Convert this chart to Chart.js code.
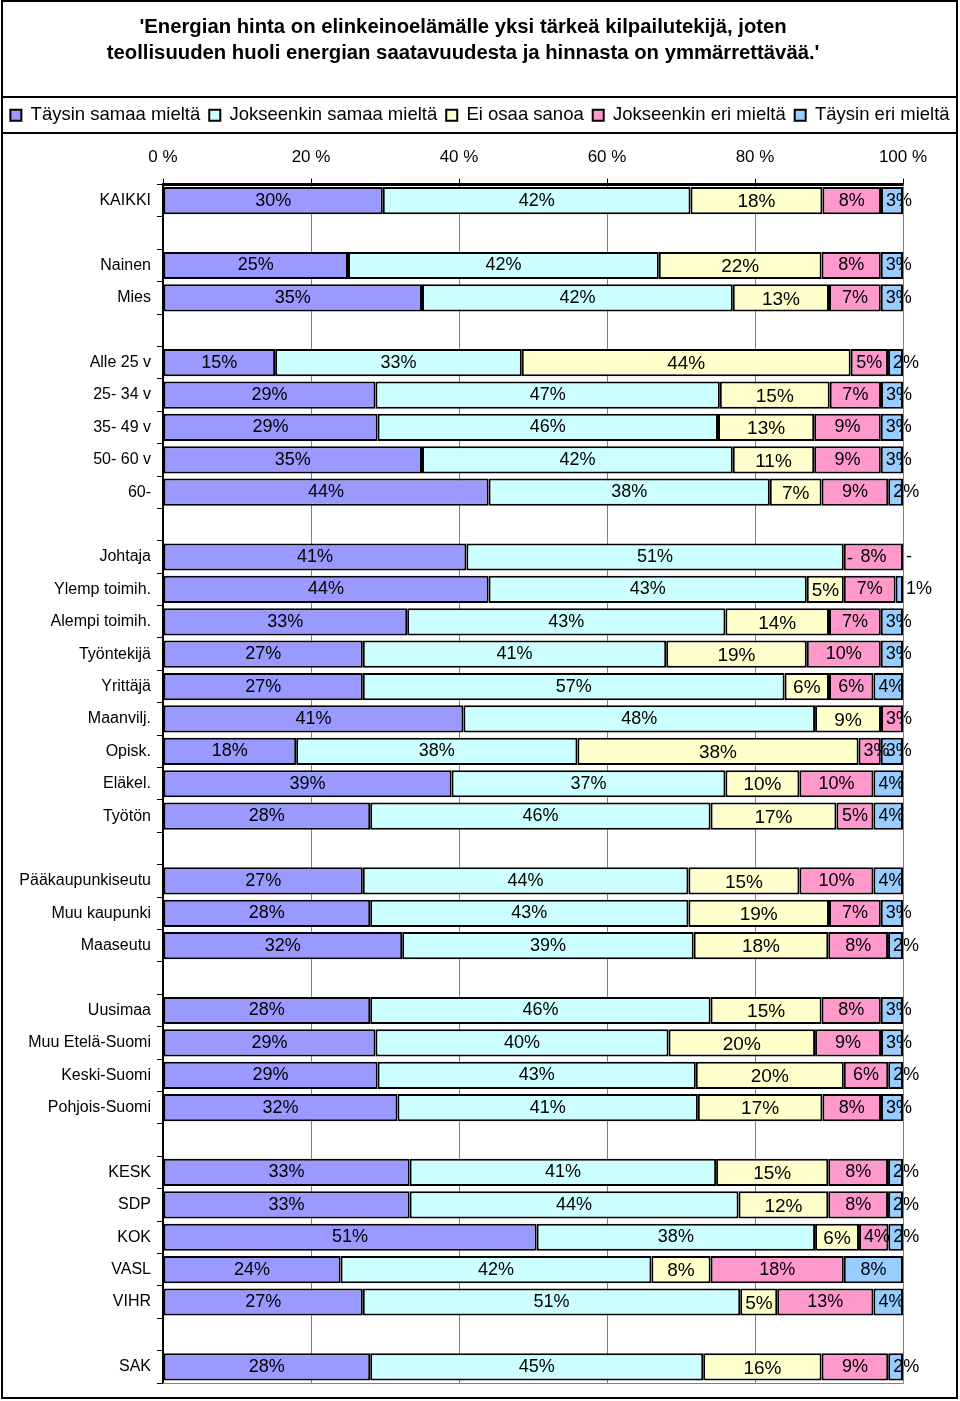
<!DOCTYPE html>
<html>
<head>
<meta charset="utf-8">
<script src="https://cdn.jsdelivr.net/npm/chart.js@4"></script>
<style>
  html, body { margin: 0; padding: 0; background: #fff; }
</style>
</head>
<body>
<canvas id="chart" width="960" height="1401"></canvas>
<script>
// Rows of the chart, '' = empty separator row
const categories = [
  "KAIKKI", "",
  "Nainen", "Mies", "",
  "Alle 25 v", "25- 34 v", "35- 49 v", "50- 60 v", "60-", "",
  "Johtaja", "Ylemp toimih.", "Alempi toimih.", "Työntekijä", "Yrittäjä", "Maanvilj.", "Opisk.", "Eläkel.", "Työtön", "",
  "Pääkaupunkiseutu", "Muu kaupunki", "Maaseutu", "",
  "Uusimaa", "Muu Etelä-Suomi", "Keski-Suomi", "Pohjois-Suomi", "",
  "KESK", "SDP", "KOK", "VASL", "VIHR", "",
  "SAK"
];

const seriesNames = ["Täysin samaa mieltä", "Jokseenkin samaa mieltä", "Ei osaa sanoa", "Jokseenkin eri mieltä", "Täysin eri mieltä"];
const seriesColors = ["#9999FF", "#CCFFFF", "#FFFFCC", "#FF99CC", "#99CCFF"];

// values in % (0 is shown as "-", null = no value)
const taysinSamaa = [30, null, 25, 35, null, 15, 29, 29, 35, 44, null, 41, 44, 33, 27, 27, 41, 18, 39, 28, null, 27, 28, 32, null, 28, 29, 29, 32, null, 33, 33, 51, 24, 27, null, 28];
const jokseenkinSamaa = [42, null, 42, 42, null, 33, 47, 46, 42, 38, null, 51, 43, 43, 41, 57, 48, 38, 37, 46, null, 44, 43, 39, null, 46, 40, 43, 41, null, 41, 44, 38, 42, 51, null, 45];
const eiOsaa = [18, null, 22, 13, null, 44, 15, 13, 11, 7, null, 0, 5, 14, 19, 6, 9, 38, 10, 17, null, 15, 19, 18, null, 15, 20, 20, 17, null, 15, 12, 6, 8, 5, null, 16];
const jokseenkinEri = [8, null, 8, 7, null, 5, 7, 9, 9, 9, null, 8, 7, 7, 10, 6, 3, 3, 10, 5, null, 10, 7, 8, null, 8, 9, 6, 8, null, 8, 8, 4, 18, 13, null, 9];
const taysinEri = [3, null, 3, 3, null, 2, 3, 3, 3, 2, null, 0, 1, 3, 3, 4, null, 3, 4, 4, null, 4, 3, 2, null, 3, 3, 2, 3, null, 2, 2, 2, 8, 4, null, 2];

const xTicks = [0, 20, 40, 60, 80, 100];

const rawSeries = [taysinSamaa, jokseenkinSamaa, eiOsaa, jokseenkinEri, taysinEri];

// 100 % stacking: scale every row to its own sum
const rowSums = categories.map((c, j) => rawSeries.reduce((s, arr) => s + (arr[j] || 0), 0));
const datasets = rawSeries.map((arr, i) => ({
  label: seriesNames[i],
  data: arr.map((v, j) => (v === null || rowSums[j] === 0) ? null : v / rowSums[j] * 100),
  backgroundColor: seriesColors[i],
  borderColor: "#000",
  borderWidth: 2,
  borderSkipped: false,
  barPercentage: 0.84,
  categoryPercentage: 1
}));

const FONT = "Arial, 'Liberation Sans', sans-serif";
// title sits a bit left of the centre in the original
const PAD = "\u00a0".repeat(6);

// Value labels inside the segments
const valueLabels = {
  id: "valueLabels",
  afterDatasetsDraw(chart) {
    const ctx = chart.ctx;
    ctx.save();
    ctx.fillStyle = "#000";
    ctx.textBaseline = "middle";
    chart.data.datasets.forEach((ds, i) => {
      const meta = chart.getDatasetMeta(i);
      ctx.font = (i === 2 ? "19px " : "18px ") + FONT;
      meta.data.forEach((bar, j) => {
        const raw = rawSeries[i][j];
        if (raw === null || raw === undefined) return;
        const txt = raw === 0 ? "-" : raw + "%";
        const left = Math.min(bar.x, bar.base);
        const right = Math.max(bar.x, bar.base);
        const w = right - left;
        const tw = ctx.measureText(txt).width;
        const y = bar.y + (i === 2 ? 1.5 : 0);
        if (w < 10) {
          ctx.textAlign = "left";
          ctx.fillText(txt, right + 3, y);
        } else {
          ctx.textAlign = "center";
          const shift = Math.max(0, (tw + 10 - w) / 2);
          ctx.fillText(txt, (left + right) / 2 + shift, y);
        }
      });
    });
    ctx.restore();
  }
};

// Frame lines around title, legend and chart
const frame = {
  id: "frame",
  beforeDraw(chart) {
    const ctx = chart.ctx;
    ctx.save();
    ctx.fillStyle = "#fff";
    ctx.fillRect(0, 0, chart.width, chart.height);
    ctx.restore();
  },
  afterDraw(chart) {
    const ctx = chart.ctx;
    const a = chart.chartArea;
    const lg = chart.legend;
    ctx.save();
    ctx.strokeStyle = "#808080";
    ctx.lineWidth = 1;
    ctx.beginPath();
    ctx.moveTo(a.right + 0.5, a.top);
    ctx.lineTo(a.right + 0.5, a.bottom + 0.5);
    ctx.lineTo(a.left, a.bottom + 0.5);
    ctx.stroke();
    ctx.strokeStyle = "#000";
    ctx.lineWidth = 2;
    ctx.strokeRect(2, 1, chart.width - 5, chart.height - 4);
    ctx.beginPath();
    ctx.moveTo(2, Math.round(lg.top));
    ctx.lineTo(chart.width - 3, Math.round(lg.top));
    ctx.moveTo(2, Math.round(lg.bottom) - 2);
    ctx.lineTo(chart.width - 3, Math.round(lg.bottom) - 2);
    ctx.stroke();
    ctx.restore();
  }
};

new Chart(document.getElementById("chart"), {
  type: "bar",
  data: { labels: categories, datasets: datasets },
  plugins: [frame, valueLabels],
  options: {
    responsive: false,
    animation: false,
    devicePixelRatio: 1,
    indexAxis: "y",
    layout: { padding: { left: 0, right: 0, top: 0, bottom: 18 } },
    plugins: {
      title: {
        display: true,
        text: ["'Energian hinta on elinkeinoelämälle yksi tärkeä kilpailutekijä, joten" + PAD,
               "teollisuuden huoli energian saatavuudesta ja hinnasta on ymmärrettävää.'" + PAD],
        color: "#000",
        font: { family: FONT, size: 20.3, weight: "bold", lineHeight: "26px" },
        padding: { top: 14, bottom: 31 }
      },
      legend: {
        position: "top",
        labels: {
          color: "#000",
          font: { family: FONT, size: 18.5 },
          boxWidth: 11,
          boxHeight: 11,
          padding: 9
        }
      },
      tooltip: { enabled: false }
    },
    scales: {
      x: {
        position: "top",
        stacked: true,
        min: 0,
        max: 100,
        afterBuildTicks: s => { s.ticks = xTicks.map(v => ({ value: v })); },
        ticks: {
          callback: v => v + " %",
          color: "#000",
          font: { family: FONT, size: 17 },
          padding: 11,
          maxRotation: 0
        },
        grid: { color: "#808080", tickColor: "#000", tickLength: 6, lineWidth: 1 },
        border: { color: "#000", width: 3 },
        afterFit: s => { s.height = 50; }
      },
      y: {
        stacked: true,
        ticks: {
          autoSkip: false,
          color: "#000",
          font: { family: FONT, size: 16 },
          padding: 6
        },
        grid: { offset: true, drawOnChartArea: false, tickColor: "#000", tickLength: 6 },
        border: { color: "#000", width: 2 },
        afterFit: s => { s.width = 163; }
      },
      // empty right margin, keeps the legend full width
      margin: {
        type: "linear",
        position: "right",
        display: true,
        grid: { display: false },
        ticks: { display: false },
        border: { display: false },
        afterFit: s => { s.width = 57; }
      }
    }
  }
});
</script>
</body>
</html>
